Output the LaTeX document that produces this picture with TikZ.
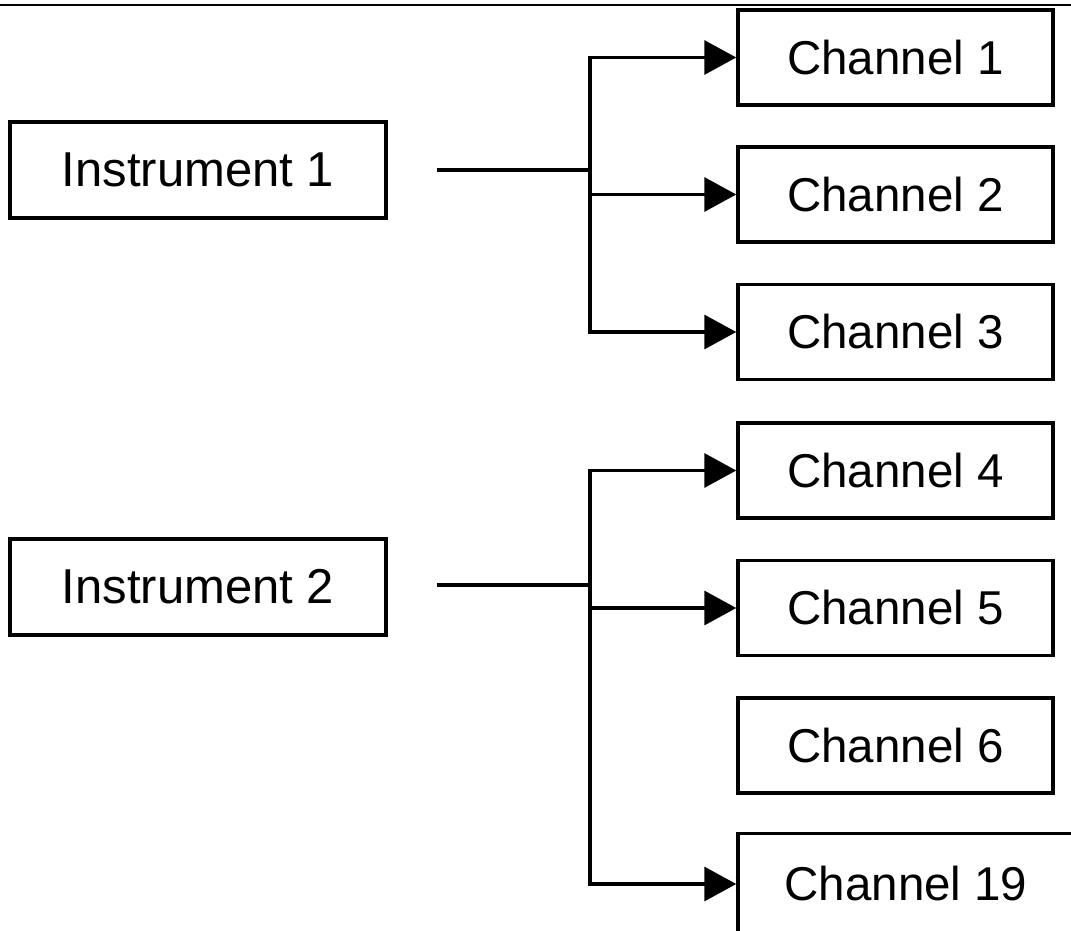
\documentclass[tikz,border=0pt]{standalone}
\usepackage{fontspec}
\setmainfont{Liberation Sans}
\usetikzlibrary{arrows.meta}
\begin{document}
\begin{tikzpicture}[x=1pt,y=-1pt,
  box/.style={draw=black,line width=3.5pt,inner sep=0pt},
  chbox/.style={box,minimum width=315pt,minimum height=95pt,font=\fontsize{47.5}{52}\selectfont},
  inbox/.style={box,minimum width=376pt,minimum height=96pt,font=\fontsize{49}{54}\selectfont},
  wire/.style={line width=3.5pt},
  arr/.style={wire,-{Triangle[length=32pt,width=34pt]}}]
\useasboundingbox (0,0) rectangle (1071,931);
\clip (0,0) rectangle (1071,931);
\draw[line width=2pt] (0,5) -- (1071,5);
% instruments
\node[inbox] (i1) at (198,170) {Instrument 1};
\node[inbox] (i2) at (198,587) {Instrument 2};
% channels
\node[chbox] (c1) at (895.5,57.5) {Channel 1};
\node[chbox] (c2) at (895.5,194.5) {Channel 2};
\node[chbox] (c3) at (895.5,332) {Channel 3};
\node[chbox] (c4) at (895.5,470.5) {Channel 4};
\node[chbox] (c5) at (895.5,608) {Channel 5};
\node[chbox] (c6) at (895.5,745.5) {Channel 6};
\node[chbox,minimum width=336pt,minimum height=101pt] (c19) at (906,884) {Channel 19};
% connectors
\coordinate (s1) at (437,170);
\coordinate (j1) at (590,170);
\coordinate (s2) at (437,585);
\coordinate (j2) at (590,585);
\draw[wire] (s1) -- (j1);
\draw[wire] (s2) -- (j2);
\draw[arr] (j1) |- (c1.west);
\draw[arr] (j1) |- (c2.west);
\draw[arr] (j1) |- (c3.west);
\draw[arr] (j2) |- (c4.west);
\draw[arr] (j2) |- (c5.west);
\draw[arr] (j2) |- (c19.west);
\end{tikzpicture}
\end{document}
